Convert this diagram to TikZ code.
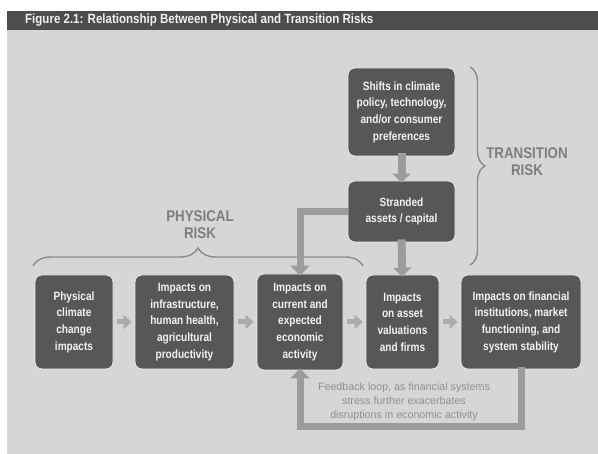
\documentclass[tikz,border=0pt]{standalone}
\usepackage{fontspec}
\setmainfont{Liberation Sans}
\newfontfamily\cond{Liberation Sans}[FakeStretch=0.86]
\newfontfamily\condb{Liberation Sans}[FakeStretch=0.84]
\usetikzlibrary{arrows.meta,decorations.pathreplacing}
\definecolor{bggray}{HTML}{D6D6D6}
\definecolor{bargray}{HTML}{4D4D4D}
\definecolor{boxgray}{HTML}{575757}
\definecolor{arrgray}{HTML}{9C9C9C}
\definecolor{labgray}{HTML}{7E7E7E}
\definecolor{fbgray}{HTML}{909090}
\tikzset{
  box/.style={fill=boxgray, draw=white!85!gray, line width=0.8pt, rounded corners=7pt,
    align=center, text=white!95!black, inner sep=0pt,
    font=\condb\bfseries\fontsize{12}{16.7}\selectfont},
  conn/.style={draw=arrgray, line width=7pt, -{Triangle[width=19pt,length=10pt]}},
  smallarr/.style={draw=arrgray!85!white, line width=5pt, -{Triangle[width=14pt,length=8pt]}},
  bracestyle/.style={draw=arrgray!90!black, line width=1.4pt, decorate},
  risklabel/.style={text=labgray, align=center, font=\cond\bfseries\fontsize{15.5}{17}\selectfont},
  fbtext/.style={text=fbgray, align=center, font=\fontsize{10.7}{14}\selectfont}
}
\begin{document}
\begin{tikzpicture}[x=1pt,y=-1pt]
\useasboundingbox (0,0) rectangle (598,454);
\fill[white] (0,0) rectangle (598,454);
\fill[bggray] (7,11) rectangle (598,454);
\fill[bargray] (7,11) rectangle (598,30);
\node[anchor=west, text=white!94!black, font=\cond\bfseries\fontsize{13.4}{14}\selectfont, inner sep=0pt] (title) at (25,20.5) {Figure 2.1: Relationship Between Physical and Transition Risks};

% boxes
\node[box, minimum width=107pt, minimum height=88pt] (top) at (401.5,112) {Shifts in climate\\policy, technology,\\and/or consumer\\preferences};
\node[box, minimum width=107pt, minimum height=61pt] (strand) at (401.5,211.5) {Stranded\\assets / capital};
\node[box, minimum width=78pt, minimum height=94pt] (b1) at (74,322) {Physical\\climate\\change\\impacts};
\node[box, minimum width=99pt, minimum height=94pt] (b2) at (184.5,322) {Impacts on\\infrastructure,\\human health,\\agricultural\\productivity};
\node[box, minimum width=86pt, minimum height=96pt] (b3) at (300,322) {Impacts on\\current and\\expected\\economic\\activity};
\node[box, minimum width=73pt, minimum height=94pt] (b4) at (402.5,322) {Impacts\\on asset\\valuations\\and firms};
\node[box, minimum width=120pt, minimum height=94pt] (b5) at (521,322) {Impacts on financial\\institutions, market\\functioning, and\\system stability};

% braces
\draw[bracestyle, decoration={brace, amplitude=18pt}] (33,266) -- (363,266);
\draw[bracestyle, decoration={brace, amplitude=15pt}] (470,67) -- (470,265);
\node[risklabel] (phys) at (200,224.5) {PHYSICAL\\RISK};
\node[risklabel] (trans) at (527,162) {TRANSITION\\RISK};

% arrows
\draw[smallarr] ([xshift=4pt]b1.east) -- ([xshift=-3pt]b2.west);
\draw[smallarr] ([xshift=4pt]b2.east) -- ([xshift=-3pt]b3.west);
\draw[smallarr] ([xshift=4pt]b3.east) -- ([xshift=-3pt]b4.west);
\draw[smallarr] ([xshift=4pt]b4.east) -- ([xshift=-3pt]b5.west);
\draw[draw=arrgray, line width=8pt, -{Triangle[width=18pt,length=9pt]}] ([yshift=3pt]top.south) -- ([yshift=-2pt]strand.north);
\draw[draw=arrgray, line width=8pt, -{Triangle[width=18pt,length=9pt]}] ([yshift=3pt]strand.south) -- ([yshift=-2pt]b4.north);
\draw[conn] (strand.west) -| ([yshift=-2pt]b3.north);
\draw[conn] ([yshift=2pt]b5.south) -- ++(0,59) -| ([yshift=2pt]b3.south);

\node[fbtext] (fb) at (404,402) {Feedback loop, as financial systems\\stress further exacerbates\\disruptions in economic activity};
\end{tikzpicture}
\end{document}
